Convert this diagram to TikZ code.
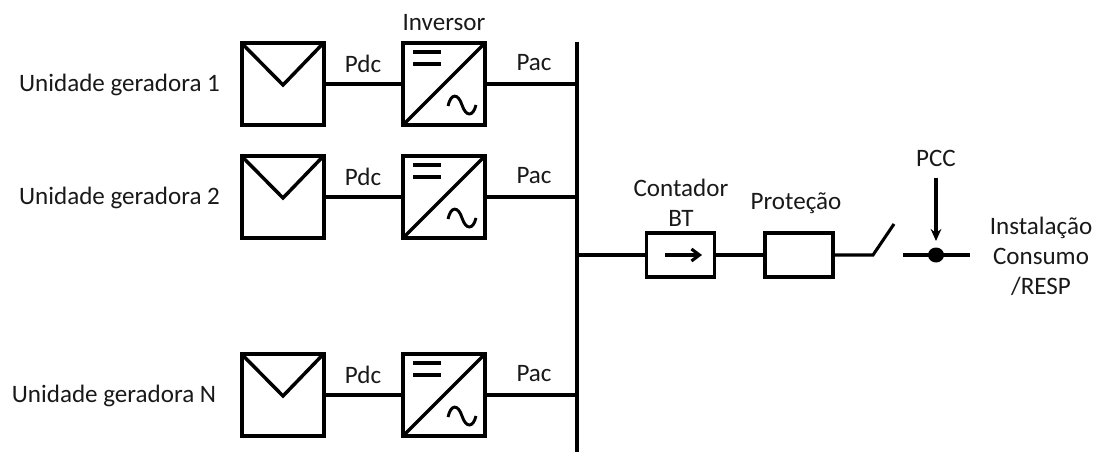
\documentclass[tikz,border=0pt]{standalone}
\usepackage{fontspec}
\setmainfont{Carlito}
\usetikzlibrary{arrows.meta}
\tikzset{
 x=0.75pt,y=-0.75pt,
 lbl/.style={inner sep=0pt,font=\fontsize{18.8}{22.6}\selectfont,text=black!90,align=center},
 heavybox/.style={draw,line width=3pt,minimum width=61.5pt,minimum height=61.5pt,inner sep=0pt,outer sep=0pt},
 smallbox/.style={draw,line width=2.4pt,minimum width=51pt,minimum height=33pt,inner sep=0pt,outer sep=0pt},
 wire/.style={line width=2.3pt},
 mark line/.style={line width=2.6pt,line join=miter},
}
\newcommand{\unitrow}[3]{%
 \node[heavybox] (pv#1) at (282.5,#2) {};
 \node[heavybox] (inv#1) at (444,#2) {};
 \coordinate (bus#1) at (577,#2);
 \draw[mark line] (pv#1.north west) -- (283,#2+1) -- (pv#1.north east);
 \draw[mark line] (inv#1.south west) -- (inv#1.north east);
 \draw[line width=2.6pt] (413,#2-32) -- (441,#2-32) (413,#2-20) -- (441,#2-20);
 \draw[line width=2.2pt] (448,#2+22) .. controls (451,#2+9) and (458,#2+9) .. (462,#2+21) .. controls (466,#2+33) and (473,#2+33) .. (476,#2+21);
 \draw[wire] (pv#1) -- (inv#1);
 \draw[wire] (inv#1) -- (bus#1);
 \node[lbl] (pdc#1) at (363,#2-20) {Pdc};
 \node[lbl] (pac#1) at (534,#2-21) {Pac};
}
\begin{document}
\begin{tikzpicture}
\useasboundingbox (0,0) rectangle (1094,452);
\unitrow{a}{84}{1}
\unitrow{b}{197}{2}
\unitrow{c}{395}{3}
\coordinate (bustop) at (577,42);
\coordinate (busbot) at (577,452);
\draw[line width=2.6pt] (bustop) -- (busbot);
\node[lbl] (u1) at (119.5,85) {Unidade geradora 1};
\node[lbl] (u2) at (119.5,198) {Unidade geradora 2};
\node[lbl] (u3) at (114,396) {Unidade geradora N};
\node[lbl] (invl) at (444,23) {Inversor};
\coordinate (busm) at (577,255);
\node[smallbox] (cnt) at (680.5,255) {};
\node[smallbox] (prot) at (799,255) {};
\coordinate (swa) at (873,255);
\coordinate (swb) at (894,224);
\coordinate (swc) at (903,255);
\coordinate (endr) at (970,255);
\coordinate (pccdot) at (936,255);
\coordinate (pcct) at (936,178);
\draw[wire] (busm) -- (cnt);
\draw[wire] (cnt) -- (prot);
\draw[wire] (prot) -- (swa) -- (swb);
\draw[wire] (swc) -- (endr);
\fill (pccdot) ellipse[x radius=8,y radius=7.5];
\draw[wire,-{Straight Barb[length=6pt,width=9pt]}] (665,255) -- (702,255);
\draw[wire,-{Stealth[length=9pt,width=8pt]}] (pcct) -- (936,241);
\node[lbl] (cl) at (681,202.5) {Contador\\BT};
\node[lbl] (pl) at (796,203) {Proteção};
\node[lbl] (pccl) at (936,158) {PCC};
\node[lbl] (inst) at (1041,256) {Instalação\\Consumo\\/RESP};
\end{tikzpicture}
\end{document}
